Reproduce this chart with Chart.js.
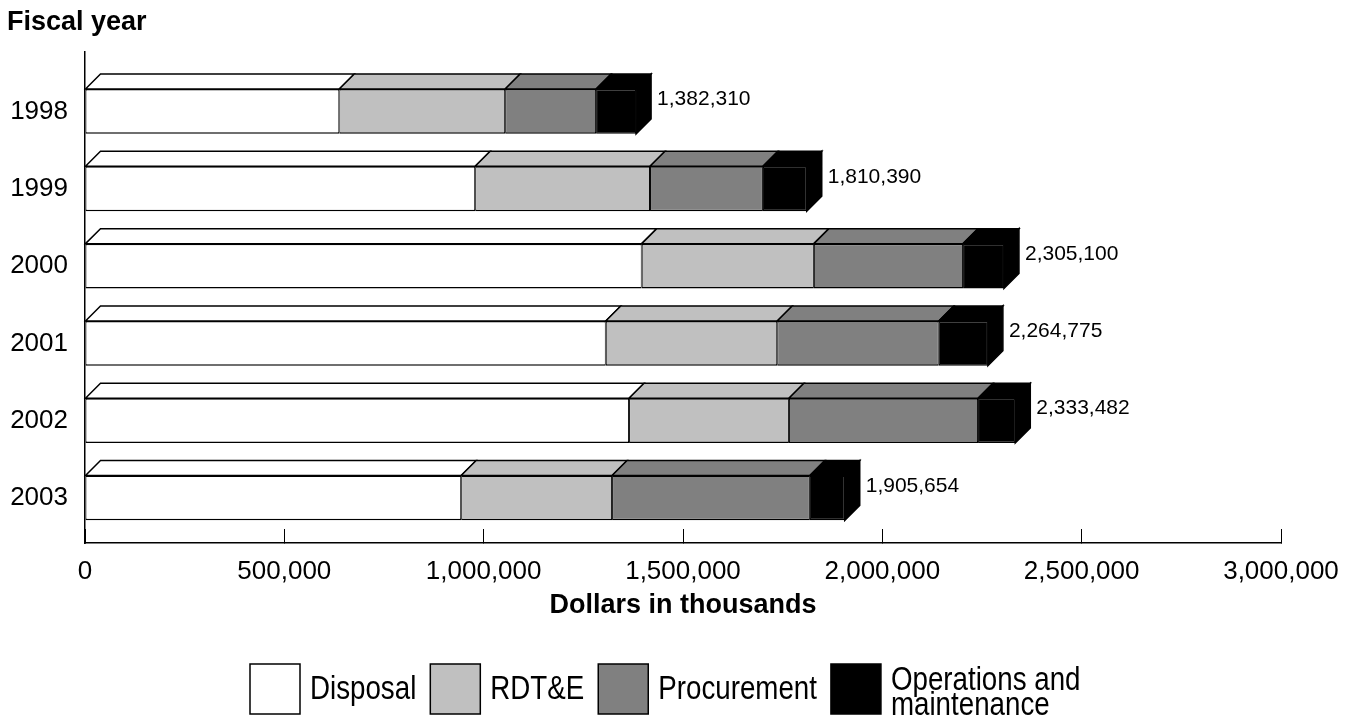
<!DOCTYPE html>
<html>
<head>
<meta charset="utf-8">
<title>Fiscal year spending</title>
<script src="https://cdn.jsdelivr.net/npm/chart.js@4.4.1/dist/chart.umd.min.js"></script>
<style>
  html, body { margin: 0; padding: 0; background: #fff; }
  #wrap { width: 1348px; height: 719px; }
</style>
</head>
<body>
<div id="wrap"><canvas id="chart" width="1348" height="719"></canvas></div>
<script>
// Values in thousands of dollars
const years = ['1998', '1999', '2000', '2001', '2002', '2003'];
const disposal = [637800, 978700, 1396500, 1306300, 1364700, 943600];
const rdte = [416100, 438600, 431800, 430000, 401000, 378500];
const procurement = [228100, 283200, 374200, 405300, 474400, 496200];
const operations = [100300, 109900, 102600, 123200, 93400, 87400];
const totals = [1382310, 1810390, 2305100, 2264775, 2333482, 1905654];
const seriesNames = ['Disposal', 'RDT&E', 'Procurement', ['Operations and', 'maintenance']];

const DEPTH = 15;
const FONT = "'Liberation Sans', Arial, Helvetica, sans-serif";

Chart.defaults.font.family = FONT;
Chart.defaults.color = '#000';

function series(values, name, color) {
    return {
        label: Array.isArray(name) ? name.join(' ') : name,
        data: values.map((v, i) => ({ x: v, y: i })),
        backgroundColor: color,
        borderColor: '#000',
        borderWidth: { top: 1.5, bottom: 1.5, left: 1, right: 1 },
        borderSkipped: false,
        barPercentage: 0.58,
        categoryPercentage: 1
    };
}

// Draws the top and right faces so the bars look like blocks, plus the totals
const bar3d = {
    id: 'bar3d',
    afterDatasetsDraw(chart) {
        const ctx = chart.ctx;
        const last = chart.data.datasets.length - 1;
        ctx.save();
        ctx.lineWidth = 1.5;
        ctx.strokeStyle = '#000';
        ctx.lineJoin = 'miter';
        chart.data.datasets.forEach((ds, d) => {
            chart.getDatasetMeta(d).data.forEach(bar => {
                const { x, y, base, height } = bar.getProps(['x', 'y', 'base', 'height'], true);
                const left = Math.min(x, base);
                const right = Math.max(x, base);
                const top = y - height / 2;
                const bottom = y + height / 2;
                ctx.fillStyle = ds.backgroundColor;
                ctx.beginPath();
                ctx.moveTo(left, top);
                ctx.lineTo(left + DEPTH, top - DEPTH);
                ctx.lineTo(right + DEPTH, top - DEPTH);
                ctx.lineTo(right, top);
                ctx.closePath();
                ctx.fill();
                ctx.stroke();
                if (d === last) {
                    ctx.beginPath();
                    ctx.moveTo(right, top);
                    ctx.lineTo(right + DEPTH, top - DEPTH);
                    ctx.lineTo(right + DEPTH, bottom - DEPTH);
                    ctx.lineTo(right, bottom);
                    ctx.closePath();
                    ctx.fill();
                    ctx.stroke();
                }
            });
        });

        // totals to the right of each bar
        ctx.fillStyle = '#000';
        ctx.font = '21px ' + FONT;
        ctx.textBaseline = 'middle';
        ctx.textAlign = 'left';
        chart.getDatasetMeta(last).data.forEach((bar, i) => {
            ctx.fillText(totals[i].toLocaleString('en-US'), bar.x + DEPTH + 6, bar.y - 12);
        });
        ctx.restore();
    }
};

// Legend under the axis, with a two line label for the last series
const legendBoxes = {
    id: 'legendBoxes',
    afterDraw(chart) {
        const ctx = chart.ctx;
        const box = 50;
        const top = 664;
        let x = 250;
        ctx.save();
        ctx.font = '33px ' + FONT;
        ctx.textBaseline = 'middle';
        ctx.textAlign = 'left';
        chart.data.datasets.forEach((ds, d) => {
            ctx.fillStyle = ds.backgroundColor;
            ctx.fillRect(x, top, box, box);
            ctx.lineWidth = 1.5;
            ctx.strokeStyle = '#000';
            ctx.strokeRect(x, top, box, box);
            x += box + 10;
            const name = seriesNames[d];
            const lines = Array.isArray(name) ? name : [name];
            let w = 0;
            lines.forEach((line, k) => {
                let cy = top + box / 2 + 1;
                if (lines.length > 1) cy += 3 + (k - (lines.length - 1) / 2) * 25;
                ctx.save();
                ctx.translate(x, cy);
                ctx.scale(0.84, 1);
                ctx.fillStyle = '#000';
                ctx.fillText(line, 0, 0);
                ctx.restore();
                w = Math.max(w, ctx.measureText(line).width * 0.84);
            });
            x += w + 14;
        });
        ctx.restore();
    }
};

new Chart(document.getElementById('chart'), {
    type: 'bar',
    data: {
        datasets: [
            series(disposal, seriesNames[0], '#ffffff'),
            series(rdte, seriesNames[1], '#c0c0c0'),
            series(procurement, seriesNames[2], '#808080'),
            series(operations, seriesNames[3], '#000000')
        ]
    },
    options: {
        indexAxis: 'y',
        responsive: false,
        animation: false,
        layout: { padding: { left: 7, right: 67, top: 0, bottom: 93 } },
        plugins: {
            legend: { display: false },
            tooltip: { enabled: false },
            title: {
                display: true,
                text: 'Fiscal year',
                align: 'start',
                color: '#000',
                font: { size: 27, weight: 'bold' },
                padding: { top: 6, bottom: 13 }
            }
        },
        scales: {
            x: {
                type: 'linear',
                stacked: true,
                min: 0,
                max: 3000000,
                afterFit: scale => {
                    scale.height = 83;
                    scale.paddingLeft = 0;
                    scale.paddingRight = 0;
                },
                ticks: {
                    stepSize: 500000,
                    padding: 27,
                    color: '#000',
                    font: { size: 26 },
                    callback: v => v.toLocaleString('en-US')
                },
                grid: { drawOnChartArea: false, tickLength: -14, color: '#000', lineWidth: 1 },
                border: { color: '#000', width: 1.5 },
                title: {
                    display: true,
                    text: 'Dollars in thousands',
                    color: '#000',
                    font: { size: 27, weight: 'bold' },
                    padding: { top: 4, bottom: 4 }
                }
            },
            y: {
                type: 'linear',
                reverse: true,
                stacked: true,
                bounds: 'data',
                offset: false,
                min: -0.777,
                max: 5.583,
                afterFit: scale => { scale.width = 78; },
                // one tick per fiscal year
                afterBuildTicks: scale => { scale.ticks = years.map((_, i) => ({ value: i })); },
                ticks: {
                    padding: 17,
                    color: '#000',
                    font: { size: 26 },
                    callback: v => years[v] ?? ''
                },
                grid: { display: false, drawTicks: false },
                border: { color: '#000', width: 1.5 }
            }
        }
    },
    plugins: [bar3d, legendBoxes]
});
</script>
</body>
</html>
